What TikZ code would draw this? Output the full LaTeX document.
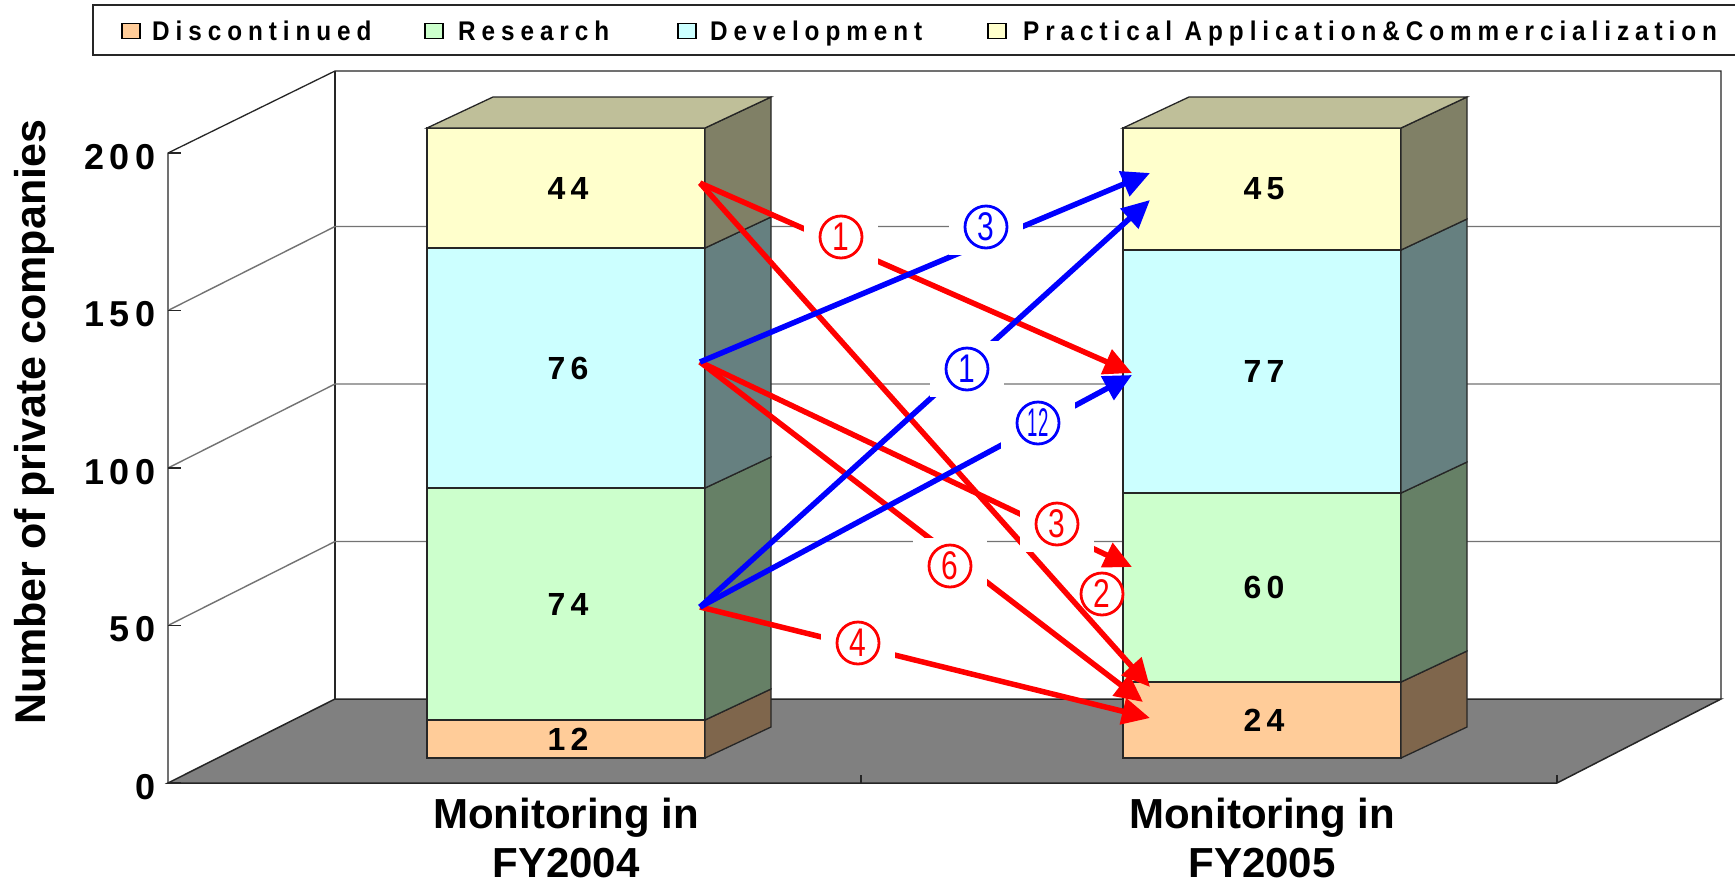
\documentclass[tikz,border=0pt]{standalone}
\usepackage{fontspec}
\setmainfont{Liberation Sans}
\newfontfamily\legfont[LetterSpace=22,FakeStretch=0.9]{Liberation Sans}
\newfontfamily\tickfont[LetterSpace=16]{Liberation Sans}
\newfontfamily\tagfont[FakeStretch=0.75]{Liberation Sans}
\usetikzlibrary{arrows.meta}
\definecolor{discF}{HTML}{FFCC99}\definecolor{discS}{HTML}{7F664C}
\definecolor{resF}{HTML}{CCFFCC}\definecolor{resS}{HTML}{668066}
\definecolor{devF}{HTML}{CCFFFF}\definecolor{devS}{HTML}{668080}
\definecolor{pracF}{HTML}{FFFFCC}\definecolor{pracS}{HTML}{808066}
\definecolor{pracT}{HTML}{BFBF99}
\definecolor{floorgray}{HTML}{808080}
\begin{document}
\begin{tikzpicture}[x=1pt, y=-1pt, >={Triangle[length=28pt,width=26pt]},
  edge/.style={black!85, line width=1.3pt},
  grid/.style={black!55, line width=1.4pt},
  flow/.style={->, line width=5.5pt},
  tagbox/.style={fill=white, inner sep=0pt, minimum width=74pt, minimum height=56pt},
  tagcirc/.style={circle, draw=#1, text=#1, fill=white, line width=2.8pt, minimum size=42pt, inner sep=0pt,
    font=\tagfont\fontsize{40}{40}\selectfont},
  barnum/.style={inner sep=0pt, font=\tickfont\bfseries\fontsize{32}{32}\selectfont},
  ticklab/.style={inner sep=0pt, font=\tickfont\bfseries\fontsize{36}{36}\selectfont},
  catlab/.style={inner sep=0pt, font=\bfseries\fontsize{42}{42}\selectfont}]
\useasboundingbox[fill=white] (0,0) rectangle (1735,887);
% chú thích
\draw[edge] (93,5) rectangle (1745,55);
\foreach \x/\t/\c/\n in {122/152/discF/Discontinued, 425/458/resF/Research,
  678/710/devF/Development, 988/1023/pracF/Practical Application\&Commercialization}{
  \node[draw, fill=\c, line width=1.2pt, inner sep=0pt, minimum width=18pt, minimum height=15pt] (sq\c) at (\x+9,31) {};
  \node[anchor=base west, inner sep=0pt, font=\legfont\bfseries\fontsize{27}{27}\selectfont] (lg\c) at (\t,40) {\n};
}
% tường và lưới
\draw[edge] (168,783) -- (168,153) -- (335,71) -- (1721,71) -- (1721,699);
\draw[edge] (335,71) -- (335,699);
\foreach \v in {50,100,150}
\draw[grid] (168,{783-3.15*\v}) -- ++(167,-84) -- (1721,{699-3.15*\v});
\filldraw[fill=floorgray, draw=black!85, line width=1.5pt] (168,783) -- (335,699) -- (1721,699) -- (1557,783) -- cycle; %sàn
\foreach \x in {861,1557}
\draw[edge] (\x,783) -- (\x,775);
% trục đứng
\foreach \v in {0,50,...,200}{
  \draw[edge] (168,{783-3.15*\v}) -- ++(13,0);
  \node[ticklab, anchor=base east] (y\v) at (156,{799-3.15*\v}) {\v};
}
% hai cột
\foreach \xa/\yb/\yt/\f/\s/\v in {427/758/720/discF/discS/12, 427/720/488/resF/resS/74,
  427/488/248/devF/devS/76, 427/248/128/pracF/pracS/44,
  1123/758/682/discF/discS/24, 1123/682/493/resF/resS/60,
  1123/493/250/devF/devS/77, 1123/250/128/pracF/pracS/45}{
  \filldraw[fill=\f, draw=black!85, line width=1.3pt] (\xa,\yb) rectangle (\xa+278,\yt);
  \filldraw[fill=\s, draw=black!85, line width=1.3pt] (\xa+278,\yb) -- ++(66,-31) -- (\xa+344,\yt-31) -- (\xa+278,\yt) -- cycle;
  \node[barnum] (n\v) at (\xa+141,{(\yb+\yt)/2}) {\v};
}
\foreach \xa in {427,1123}
\filldraw[fill=pracT, draw=black!85, line width=1.3pt] (\xa,128) -- ++(278,0) -- ++(66,-31) -- ++(-278,0) -- cycle;
% điểm đầu, điểm cuối mũi tên
\coordinate (s44) at (700,183);
\coordinate (s76) at (700,362);
\coordinate (s74) at (700,607);
\coordinate (t45a) at (1150,173);
\coordinate (t45b) at (1150,200);
\coordinate (t77r) at (1132,373);
\coordinate (t77b) at (1132,375);
\coordinate (t60) at (1132,567);
\coordinate (t24a) at (1150,687);
\coordinate (t24b) at (1143,702);
\coordinate (t24c) at (1150,718);
\draw[flow, red] (s44) -- (t77r);
\draw[flow, red] (s44) -- (t24a);
\draw[flow, red] (s76) -- (t60);
\draw[flow, red] (s76) -- (t24b);
\draw[flow, red] (s74) -- (t24c);
\draw[flow, blue] (s76) -- (t45a);
\draw[flow, blue] (s74) -- (t45b);
\draw[flow, blue] (s74) -- (t77b);
% nhãn số trên mũi tên
\foreach \n/\p/\c/\t in {r1/{(841,237)}/red/1, b3/{(986,227)}/blue/3, b1/{(967,369)}/blue/1,
  b12/{(1038,423)}/blue/\scalebox{0.62}[1]{12}, r3/{(1057,524)}/red/3, r6/{(950,566)}/red/6,
  r4/{(858,643)}/red/4}{
  \node[tagbox] (\n) at \p {};
  \node[tagcirc=\c] (\n c) at (\n) {\t};
}
\node[tagcirc=red] (r2c) at (1102,594) {2};
% tiêu đề trục
\node[rotate=90, anchor=base, inner sep=0pt, font=\bfseries\fontsize{43}{43}\selectfont] (ytitle) at (45,422) {Number of private companies};
\node[catlab, anchor=base] (cat1a) at (566,828) {Monitoring in};
\node[catlab, anchor=base] (cat1b) at (566,877) {FY2004};
\node[catlab, anchor=base] (cat2a) at (1262,828) {Monitoring in};
\node[catlab, anchor=base] (cat2b) at (1262,877) {FY2005};
\end{tikzpicture}
\end{document}
